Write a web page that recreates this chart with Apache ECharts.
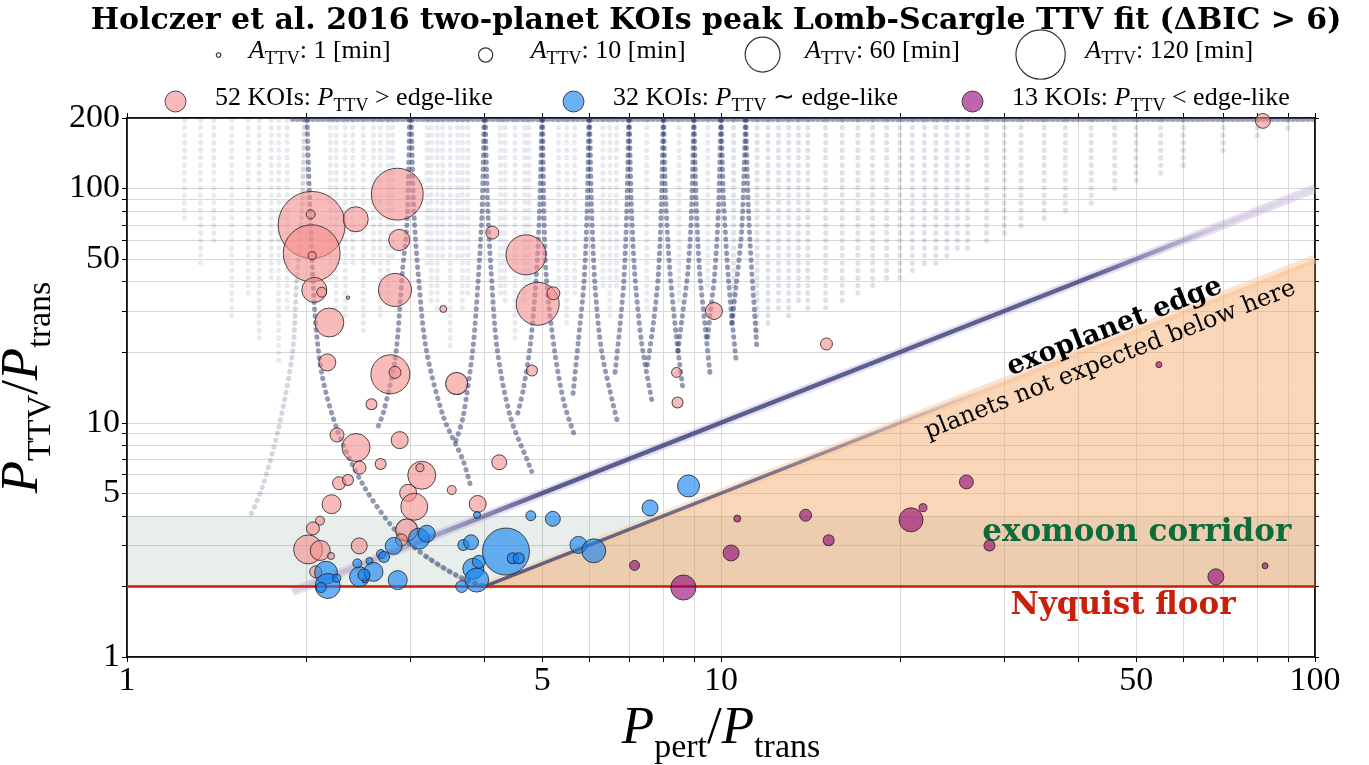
<!DOCTYPE html>
<html><head><meta charset="utf-8">
<script src="https://cdn.jsdelivr.net/npm/echarts@6/dist/echarts.min.js"></script>
<style>html,body{margin:0;padding:0;background:#fff}#c{width:1369px;height:765px}</style>
</head><body><div id="c"></div>
<script>
// ---------------- data ----------------
const xTickValues = [1,2,3,4,5,6,7,8,9,10,20,30,40,50,60,70,80,90,100];
const xLabelValues = [1,5,10,50,100];
const yTickValues = [1,2,3,4,5,6,7,8,9,10,20,30,40,50,60,70,80,90,100,200];
const yLabelValues = [1,5,10,50,100,200];

// [P_pert/P_trans, P_TTV/P_trans, A_TTV (min)]
const pinkKOIs = [
 [2.046,69.9,222],[2.046,52.9,160],[2.038,77.6,4],[2.05,51.7,3.2],[2.427,73.9,31],
 [2.851,94.6,133],[2.873,60.3,22],[2.067,36.9,31],[2.127,36.1,4.9],[2.355,34.2,0.5],
 [2.826,36.9,54],[2.191,26.8,41.5],[3.408,30.6,2.4],[4.121,64.8,8.3],[4.696,52.1,79],
 [4.914,32.2,91],[5.221,35.7,8.3],[2.174,18.1,14.3],[2.776,16.1,75],[2.826,16.4,7.1],
 [3.589,14.7,24],[4.806,16.7,6],[2.58,12.0,6],[2.257,8.87,9.7],[2.43,7.84,38.7],
 [2.878,8.43,14.3],[2.463,6.43,8.3],[2.673,6.67,6],[3.135,5.97,38.7],[3.113,6.43,3.2],
 [2.275,5.52,8.3],[2.355,5.70,6],[3.521,5.16,4],[4.233,6.78,11],[2.974,5.02,14.3],
 [3.045,4.38,36],[2.21,4.49,17.8],[3.894,4.50,14.3],[2.113,3.82,4],[2.056,3.54,8.3],
 [2.957,3.48,24],[2.898,3.16,7.1],[2.018,2.88,41.5],[2.115,2.85,19.8],[2.205,2.70,2.4],
 [2.46,2.98,12.6],[2.078,2.31,7.1],[9.73,30.0,14.3],[15.05,21.7,7.1],[8.416,16.4,4.9],
 [8.449,12.2,6],[81.7,194.4,11]
];
const blueKOIs = [
 [2.163,2.29,26],[2.177,2.01,31],[2.123,1.98,4.9],[2.255,2.17,3.2],[2.463,2.20,19.8],
 [2.442,2.51,4],[2.56,2.57,2.4],[2.60,2.31,17.8],[2.513,2.12,1.2],[2.677,2.75,4],
 [2.708,2.67,6],[2.812,2.98,14.3],[2.856,2.13,17.8],[3.101,3.20,21.8],[3.196,3.36,14.3],
 [3.683,3.01,6],[3.795,3.09,11],[3.884,4.04,2.4],[3.828,2.38,21.8],[3.911,2.55,8.3],
 [3.879,2.13,28.4],[3.66,2.00,7.1],[4.345,2.82,109],[4.461,2.64,6],[4.566,2.64,6],
 [4.784,4.01,4.9],[5.211,3.89,11],[5.755,3.01,14.3],[6.106,2.84,28.4],[7.595,4.33,12.6],
 [8.816,5.37,23.9],[2.506,2.24,7.1]
];
const purpleKOIs = [
 [7.153,2.46,4.9],[8.643,1.98,31],[10.40,2.78,12.6],[10.65,3.90,2.4],[13.88,4.03,7.1],
 [15.18,3.15,6],[20.89,3.85,28.4],[21.88,4.34,3.2],[25.89,5.59,9.7],[28.31,2.99,6],
 [68.1,2.20,12.6],[82.4,2.45,1.8],[54.6,17.7,1.8]
];
const groupCounts = [52,32,13];
const groupRelations = ['>','\u223C','<'];
const legendAmplitudes = [1,10,60,120];

const nyquistFloor = [[1,2],[100,2]];
const exomoonCorridor = [[1,2],[100,2],[100,4],[1,4]];
const forbiddenRegion = [[4,2],[100,50],[100,2]];
const exoplanetEdge = [[1.9,1.9],[100,100]];
const harmonicEdge = [[4,2],[100,50]];
const topRow = [[1.9,197],[100,197]];

// ridges of the simulated population
const ridgeArcs = [
 [[2.01,196],[2.03,90],[2.07,30],[2.13,16],[2.26,9.3],[2.5,5.4],[2.85,3.4],[3.2,2.67],[3.63,2.2],[4.0,2.0]],
 [[2.99,196],[2.96,70],[2.91,45],[2.83,19],[2.7,11],[2.63,9.3]],
 [[3.01,196],[3.04,80],[3.1,40],[3.19,20.5],[3.41,10.6],[3.68,6.9],[3.8,5.2]],
 [[3.99,196],[3.96,80],[3.9,40],[3.82,20.5],[3.68,10.6],[3.58,8.4]],
 [[4.01,196],[4.05,80],[4.1,45],[4.2,20.5],[4.42,10.6],[4.72,6.9],[4.8,6.2]],
 [[4.99,196],[4.95,80],[4.88,40],[4.78,22],[4.65,14],[4.55,11]],
 [[5.01,196],[5.03,90],[5.08,42],[5.25,20],[5.45,12],[5.69,8.6]],
 [[5.99,196],[5.95,80],[5.88,40],[5.75,22],[5.63,13]],
 [[6.01,196],[6.05,90],[6.13,40],[6.3,20],[6.68,10.3]],
 [[6.99,196],[6.94,80],[6.86,40],[6.75,25],[6.62,15.7]],
 [[7.01,196],[7.06,90],[7.15,45],[7.35,22],[7.66,12.2]],
 [[7.99,196],[7.93,80],[7.84,42],[7.7,27],[7.51,17.3]],
 [[8.01,196],[8.07,90],[8.2,45],[8.4,24],[8.62,14.2]],
 [[8.99,196],[8.92,80],[8.8,45],[8.6,28],[8.44,19.1]],
 [[9.01,196],[9.08,90],[9.2,45],[9.4,26],[9.58,16.3]],
 [[9.99,196],[9.9,80],[9.75,42],[9.6,30],[9.49,22.6]],
 [[10.01,196],[10.1,90],[10.3,40],[10.6,18.5]],
 [[10.99,196],[10.85,70],[10.6,38],[10.4,25.6]],
 [[11.01,196],[11.15,70],[11.5,20.4]]
];
const faintArcs = [
 [[1.99,196],[1.97,80],[1.93,40],[1.9,20],[1.8,9.5],[1.69,5.3],[1.62,4.1]],
 [[3.2,2.67],[3.45,2.35],[3.7,2.13],[3.95,2.02]]
];
// [x, lowest P_TTV/P_trans of the column]
const faintColumns = [
 [1.25,70],[1.33,45],[1.4,60],[1.5,28],[1.6,35],[1.67,22],[1.75,40],[1.8,18],[1.86,30],
 [2.2,40],[2.25,30],[2.33,28],[2.4,45],[2.5,24],[2.6,45],[2.67,28],[2.75,32],[2.8,50],
 [3.2,45],[3.25,32],[3.33,30],[3.4,50],[3.5,20],[3.6,50],[3.67,30],[3.75,35],
 [4.25,35],[4.33,32],[4.5,22],[4.67,32],[4.75,40],
 [5.33,35],[5.5,26],[5.67,35],[6.33,38],[6.5,28],[6.67,38],[7.5,30],[8.5,33],[9.5,36]
];
const denseColumns = [
 [10.5,28],[11.5,24],[12,25],[12.5,30],[13,27],[13.5,32],[14,29],[15,31],[16,33],[17,35],
 [18,37],[19,39],[20,41],[21,44],[22,46],[23,48],[24,50],[25,52],[26,54],[28,58],[30,62],
 [32,66],[35,72],[38,78],[42,85],[46,95],[50,105],[55,115],[60,125],[70,140],[80,160],[90,175]
];

const annotationText = ['exoplanet edge','planets not expected below here','exomoon corridor','Nyquist floor'];
const annotationAnchor = [[46,25.6],[45.2,18.5],[50.1,3.38],[47.5,1.65]];

// ---------------- styles ----------------
const SERIF = 'Liberation Serif';
const NAVY = '#27336b';
const sizeOf = A => 4.5 * Math.sqrt(A);
const groupFill = ['rgba(245,140,140,0.75)','rgba(20,130,240,0.78)','rgba(145,0,115,0.75)'];
const annotationStyle = [
 {font:'bold 27px "DejaVu Serif"', fill:'#000', rotate:true},
 {font:'24px "DejaVu Serif"', fill:'#000', rotate:true},
 {font:'bold 31px "DejaVu Serif"', fill:'#0d6b3c', rotate:false},
 {font:'bold 31px "DejaVu Serif"', fill:'#c8200a', rotate:false}
];

const series = [];
function polygonSeries(poly, fill, z) {
  return {type:'custom', coordinateSystem:'cartesian2d', z, silent:true, clip:true, data:[poly[0]],
    renderItem:(p, api) => ({type:'polygon', shape:{points: poly.map(q => api.coord(q))}, style:{fill}})};
}
function dotted(pts, opacity, z, gap) {
  return {type:'line', data:pts, smooth:0.3, symbol:'none', silent:true, z,
    lineStyle:{color:NAVY, width:5, opacity, type:[0.5, gap || 6.5], cap:'round'}};
}
faintColumns.forEach(c => series.push(dotted([[c[0],196],[c[0],c[1]]], 0.1, 2, 7)));
denseColumns.forEach(c => series.push(dotted([[c[0],196],[c[0],c[1]]], 0.15, 2, 7)));
faintArcs.forEach(a => series.push(dotted(a, 0.2, 3)));
ridgeArcs.forEach(a => series.push(dotted(a, 0.5, 3)));
series.push({type:'line', data:topRow, symbol:'none', silent:true, z:3,
  lineStyle:{color:NAVY, width:5, opacity:0.45, type:[0.5,4.5], cap:'round'}});

series.push(polygonSeries(exomoonCorridor, 'rgba(40,100,80,0.11)', 4));
series.push(polygonSeries(forbiddenRegion, 'rgba(245,160,90,0.42)', 5));

// halos
series.push({type:'line', data:exoplanetEdge, symbol:'none', silent:true, z:6,
  lineStyle:{color:'rgba(185,160,215,0.35)', width:9}});
series.push({type:'line', data:harmonicEdge, symbol:'none', silent:true, z:6,
  lineStyle:{color:'rgba(250,195,150,0.45)', width:9}});
// ridge lines
series.push({type:'line', data:exoplanetEdge, symbol:'none', silent:true, z:7,
  lineStyle:{width:4.5, color:{type:'linear', x:0, y:0, x2:1, y2:0, colorStops:[
    {offset:0, color:'rgba(39,51,107,0.05)'},{offset:0.12, color:'rgba(39,51,107,0.2)'},
    {offset:0.25, color:'rgba(39,51,107,0.75)'},{offset:0.78, color:'rgba(39,51,107,0.72)'},
    {offset:0.9, color:'rgba(39,51,107,0.1)'},{offset:1, color:'rgba(39,51,107,0.02)'}]}}});
series.push({type:'line', data:harmonicEdge, symbol:'none', silent:true, z:7,
  lineStyle:{width:3.5, color:{type:'linear', x:0, y:0, x2:1, y2:0, colorStops:[
    {offset:0, color:'rgba(39,51,107,0.75)'},{offset:0.35, color:'rgba(39,51,107,0.6)'},
    {offset:0.6, color:'rgba(39,51,107,0.04)'},{offset:1, color:'rgba(39,51,107,0)'}]}}});
series.push({type:'line', data:nyquistFloor, symbol:'none', silent:true, z:8,
  lineStyle:{color:'#c8200a', width:2.5}});

// annotations
series.push({type:'custom', coordinateSystem:'cartesian2d', z:9, silent:true, clip:false,
  data: annotationAnchor.map((a,i) => [a[0], a[1], i]),
  renderItem:(p, api) => {
    const i = api.value(2);
    const pt = api.coord([api.value(0), api.value(1)]);
    const a = api.coord(exoplanetEdge[0]), b = api.coord(exoplanetEdge[1]);
    const ang = Math.atan2(a[1]-b[1], b[0]-a[0]);
    const st = annotationStyle[i];
    return {type:'text', x:pt[0], y:pt[1], rotation: st.rotate ? ang : 0,
      style:{text:annotationText[i], font:st.font, fill:st.fill, align:'center', verticalAlign:'middle'}};
  }});

// KOIs
[pinkKOIs, blueKOIs, purpleKOIs].forEach((d, g) => {
  series.push({type:'scatter', name:'g'+g, data:d, z:10, symbolSize: v => sizeOf(v[2]),
    itemStyle:{color:groupFill[g], borderColor:'#222', borderWidth:1}});
});
// size-legend series
legendAmplitudes.forEach(A => series.push({type:'scatter', name:'A'+A, data:[],
  itemStyle:{color:'#fff', borderColor:'#000', borderWidth:1.2}}));

// ---------------- legends ----------------
const rich = {
  n:{fontFamily:SERIF, fontSize:26, color:'#000', verticalAlign:'bottom', lineHeight:27, padding:[0,0,4,0]},
  i:{fontFamily:SERIF, fontSize:26, fontStyle:'italic', color:'#000', verticalAlign:'bottom', lineHeight:27, padding:[0,0,4,0]},
  s:{fontFamily:SERIF, fontSize:18, color:'#000', verticalAlign:'bottom', lineHeight:19},
  s1:{width:23}, s2:{width:33}, s3:{width:20}, s4:{width:15}, sp:{width:24}
};
const legends = [];
const sizeCenters = [218,485,762,1040];
legendAmplitudes.forEach((A,k) => {
  const d = sizeOf(A);
  legends.push({data:['A'+A], left: sizeCenters[k]-d/2, top: 54-Math.max(d,31)/2, padding:0,
    itemWidth:d, itemHeight:d, icon:'circle', selectedMode:false,
    itemStyle:{color:'#fff', borderColor:'#000', borderWidth:1.2},
    formatter: () => `{s${k+1}|}{i|A}{s|TTV}{n|: ${A} [min]}`,
    textStyle:{rich}});
});
const groupIconLeft = [164.5,562.5,961.5];
[0,1,2].forEach(g => {
  legends.push({data:['g'+g], left: groupIconLeft[g], top: 85, padding:0, itemWidth:21, itemHeight:21,
    icon:'circle', selectedMode:false,
    itemStyle:{color:groupFill[g], borderColor:'#222', borderWidth:1},
    formatter: () => `{sp|}{n|${groupCounts[g]} KOIs: }{i|P}{s|TTV}{n| ${groupRelations[g]} edge-like}`,
    textStyle:{rich}});
});

// ---------------- axes ----------------
const nameRich = {
  P:{fontFamily:SERIF, fontStyle:'italic', fontSize:53, color:'#000', verticalAlign:'bottom', lineHeight:54, padding:[0,0,9,0]},
  sl:{fontFamily:SERIF, fontSize:53, color:'#000', verticalAlign:'bottom', lineHeight:54, padding:[0,0,9,0]},
  b:{fontFamily:SERIF, fontSize:34, color:'#000', verticalAlign:'bottom', lineHeight:35}
};
const lbl = v => String(Math.round(v));
const option = {
  animation:false,
  backgroundColor:'#fff',
  title:{text:'Holczer et al. 2016 two-planet KOIs peak Lomb-Scargle TTV fit (\u0394BIC > 6)',
    left:711, top:1, textAlign:'center',
    textStyle:{fontFamily:'DejaVu Serif', fontWeight:'bold', fontSize:30, color:'#000'}},
  legend: legends,
  grid:{left:127, right:54, top:118, bottom:108, outerBoundsMode:'none', containLabel:false,
    show:true, borderColor:'#000', borderWidth:1.5, backgroundColor:'rgba(0,0,0,0)'},
  xAxis:[{
    type:'log', logBase:10, min:1, max:100, position:'bottom',
    name:'{P|P}{b|pert}{sl|/}{P|P}{b|trans}', nameLocation:'middle', nameGap:40,
    nameTextStyle:{rich:nameRich},
    axisLine:{show:true, onZero:false, lineStyle:{color:'#000', width:1.5}},
    axisTick:{show:true, length:5, lineStyle:{color:'#000', width:1}, customValues:xTickValues},
    axisLabel:{customValues:xLabelValues, formatter:lbl, fontFamily:SERIF, fontSize:34, color:'#000', margin:7},
    splitLine:{show:true, lineStyle:{color:'#d9d9d9', width:1}}
  },{
    type:'log', logBase:10, min:1, max:100, position:'top',
    axisLine:{show:true, onZero:false, lineStyle:{color:'#000', width:1.5}},
    axisTick:{show:true, length:5, lineStyle:{color:'#000', width:1}, customValues:xTickValues},
    axisLabel:{show:false}, splitLine:{show:false}
  }],
  yAxis:[{
    type:'log', logBase:10, min:1, max:200, position:'left',
    name:'{P|P}{b|TTV}{sl|/}{P|P}{b|trans}', nameLocation:'middle', nameGap:58, nameRotate:90,
    nameTextStyle:{rich:nameRich},
    axisLine:{show:true, onZero:false, lineStyle:{color:'#000', width:1.5}},
    axisTick:{show:true, length:5, lineStyle:{color:'#000', width:1}, customValues:yTickValues},
    axisLabel:{customValues:yLabelValues, formatter:lbl, fontFamily:SERIF, fontSize:34, color:'#000', margin:7},
    splitLine:{show:true, lineStyle:{color:'#d9d9d9', width:1}}
  },{
    type:'log', logBase:10, min:1, max:200, position:'right',
    axisLine:{show:true, onZero:false, lineStyle:{color:'#000', width:1.5}},
    axisTick:{show:true, length:4, lineStyle:{color:'#000', width:1}, customValues:yTickValues},
    axisLabel:{show:false}, splitLine:{show:false}
  }],
  series
};
const chart = echarts.init(document.getElementById('c'), null, {renderer:'canvas'});
chart.setOption(option);
</script></body></html>
